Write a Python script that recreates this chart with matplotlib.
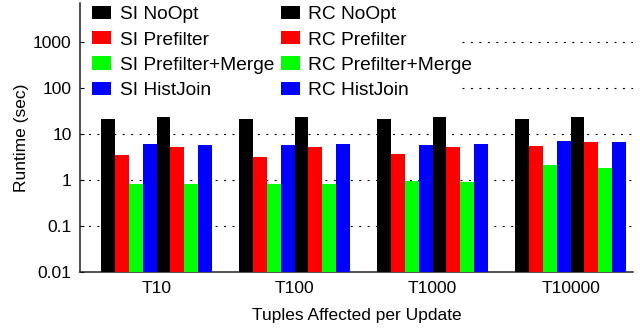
import numpy as np
import matplotlib
matplotlib.use("Agg")
import matplotlib.pyplot as plt

groups = ["T10", "T100", "T1000", "T10000"]
series = ["SI NoOpt", "SI Prefilter", "SI Prefilter+Merge", "SI HistJoin",
          "RC NoOpt", "RC Prefilter", "RC Prefilter+Merge", "RC HistJoin"]
colors = ["#000000", "#ff0000", "#00ff00", "#0000ff"] * 2

si_noopt = [21.2, 21.2, 21.2, 21.2]
si_pref = [3.5, 3.16, 3.67, 5.49]
si_merge = [0.82, 0.82, 0.95, 2.12]
si_hist = [6.06, 5.76, 5.76, 7.04]
rc_noopt = [23.4, 23.4, 23.4, 23.4]
rc_pref = [5.2, 5.2, 5.2, 6.7]
rc_merge = [0.82, 0.82, 0.905, 1.82]
rc_hist = [5.76, 6.06, 6.06, 6.7]
values = [si_noopt, si_pref, si_merge, si_hist, rc_noopt, rc_pref, rc_merge, rc_hist]

yticks = [0.01, 0.1, 1, 10, 100, 1000]
ytick_labels = ["0.01", "0.1", "1", "10", "100", "1000"]

plt.rcParams.update({"font.family": ["Liberation Sans", "DejaVu Sans"], "font.size": 12.5})

fig = plt.figure(figsize=(6.4, 3.33), dpi=100)
ax = fig.add_axes([0.125, 0.184, 0.8636, 0.806])

x = np.arange(len(groups))
w = 0.1
for i, (lab, vals) in enumerate(zip(series, values)):
    ax.bar(x + (i - 3.5) * w, vals, w, color=colors[i], label=lab, linewidth=0, zorder=3)

ax.set_yscale("log")
ax.set_ylim(0.01, 6800)
ax.set_xlim(-0.555, 3.45)
ax.set_yticks(yticks)
ax.set_yticklabels(ytick_labels)
ax.minorticks_off()
ax.set_xticks(x)
ax.set_xticklabels(groups)
ax.tick_params(axis="x", length=0, pad=7)
ax.tick_params(axis="y", direction="in", length=3, pad=6)
for s in ["top", "right"]:
    ax.spines[s].set_visible(False)
for s in ["left", "bottom"]:
    ax.spines[s].set_linewidth(1.1)
    ax.spines[s].set_color("#222222")

# dotted grid; the upper lines stop where the key sits
for v in yticks[1:]:
    start = 0.691 if v >= 100 else 0.0
    ax.axhline(v, xmin=start, color="black", linewidth=0.8, dashes=(1.8, 5.8), zorder=1)

ax.set_ylabel("Runtime (sec)", labelpad=3)
ax.set_xlabel("Tuples Affected per Update", labelpad=8)

leg = ax.legend(ncol=2, loc="upper left", bbox_to_anchor=(0.011, 1.011),
                frameon=False, borderaxespad=0, borderpad=0.3, fontsize=13.8,
                handlelength=1.0, handleheight=0.68, handletextpad=0.45,
                labelspacing=0.41, columnspacing=0.35)

fig.savefig("out.png", dpi=100)
